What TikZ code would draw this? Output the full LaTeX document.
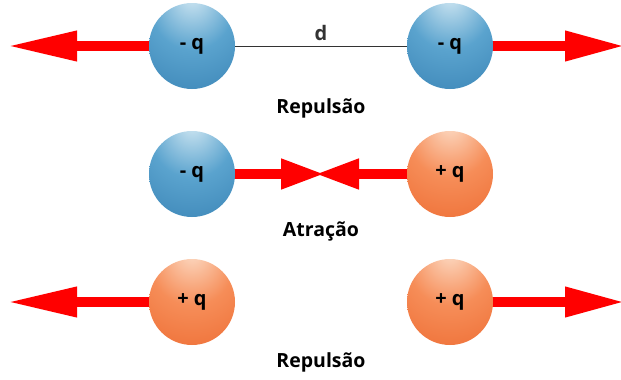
\documentclass[tikz,border=0pt]{standalone}
\usepackage{fontspec}
\setmainfont{Open Sans}
\usetikzlibrary{arrows.meta}

\definecolor{bhi}{HTML}{D2E8F3}
\definecolor{bmid}{HTML}{5AA3CE}
\definecolor{blo}{HTML}{2670A6}
\definecolor{ohi}{HTML}{FCDCC6}
\definecolor{omid}{HTML}{F68D58}
\definecolor{olo}{HTML}{E8581C}
\definecolor{arrowred}{HTML}{FF0000}
\definecolor{rodgray}{HTML}{333333}

% sphere shadings with the highlight near the top
\pgfdeclareradialshading{bluesphere}{\pgfpoint{0bp}{30bp}}{%
  color(0bp)=(bhi); color(24bp)=(bmid); color(66bp)=(blo); color(90bp)=(blo)}
\pgfdeclareradialshading{orangesphere}{\pgfpoint{0bp}{30bp}}{%
  color(0bp)=(ohi); color(24bp)=(omid); color(66bp)=(olo); color(90bp)=(olo)}

\pgfdeclarelayer{back}
\pgfsetlayers{back,main}

\begin{document}
\begin{tikzpicture}[x=1pt, y=-1pt,
  charge/.style={circle, minimum size=86pt, inner sep=0pt,
    font=\bfseries\fontsize{20}{24}\selectfont},
  negcharge/.style={charge, shading=bluesphere},
  poscharge/.style={charge, shading=orangesphere},
  force/.style={draw=arrowred, line width=10pt, shorten >=-5pt,
    -{Triangle[length=#1, width=28pt]}},
  caption/.style={font=\bfseries\fontsize{19.5}{23}\selectfont}]
\useasboundingbox (0,0) rectangle (621,380);

% repulsion of two negative charges
\node[negcharge] (a1) at (192,46) {- q};
\node[negcharge] (b1) at (450,46) {- q};
\coordinate (a1tip) at (12,46);
\coordinate (b1tip) at (620,46);
\draw[rodgray, line width=1pt] (a1) -- (b1)
  node[midway, above=1pt, font=\bfseries\fontsize{20}{24}\selectfont] (dl) {d};
\node[caption] (c1) at (321,108) {Repulsão};

% attraction of opposite charges
\node[negcharge] (a2) at (192,174) {- q};
\node[poscharge] (b2) at (450,174) {+ q};
\coordinate (mid) at (320,174);
\node[caption] (c2) at (321,231) {Atração};

% repulsion of two positive charges
\node[poscharge] (a3) at (192,302) {+ q};
\node[poscharge] (b3) at (450,302) {+ q};
\coordinate (a3tip) at (12,302);
\coordinate (b3tip) at (620,302);
\node[caption] (c3) at (321,362) {Repulsão};

\begin{pgfonlayer}{back}
  \draw[force=70pt] (a1.center) -- (a1tip);
  \draw[force=60pt] (b1.center) -- (b1tip);
  \draw[force=44pt] (a2.center) -- (mid);
  \draw[force=44pt] (b2.center) -- (mid);
  \draw[force=70pt] (a3.center) -- (a3tip);
  \draw[force=60pt] (b3.center) -- (b3tip);
\end{pgfonlayer}
\end{tikzpicture}
\end{document}
